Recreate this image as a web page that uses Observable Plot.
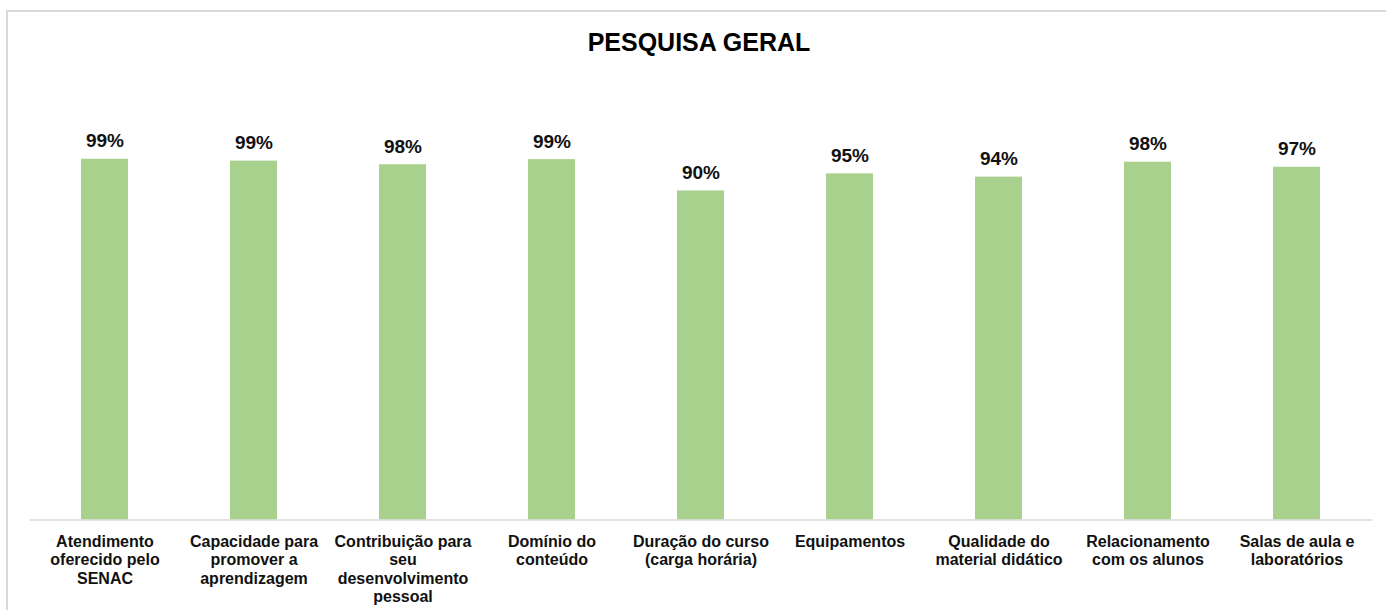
<!DOCTYPE html>
<html>
<head>
<meta charset="utf-8">
<script src="https://cdn.jsdelivr.net/npm/d3@7"></script>
<script src="https://cdn.jsdelivr.net/npm/@observablehq/plot@0.6"></script>
<style>
  html, body { margin: 0; padding: 0; background: #fff; overflow: hidden; }
  body { width: 1386px; height: 610px; position: relative; font-family: "Liberation Sans", Arial, sans-serif; }
  #frame { position: absolute; left: 6px; top: 10px; width: 1420px; height: 700px; border: 2px solid #d9d9d9; box-sizing: border-box; }
  #title { position: absolute; left: 0; width: 1398px; top: 29.5px; text-align: center; font-size: 25px; line-height: 25px; font-weight: bold; color: #000; }
  #chart { position: absolute; left: 0; top: 60px; }
</style>
</head>
<body>
<div id="frame"></div>
<div id="title">PESQUISA GERAL</div>
<div id="chart"></div>
<script>
const categories = [
  "Atendimento oferecido pelo SENAC",
  "Capacidade para promover a aprendizagem",
  "Contribuição para seu desenvolvimento pessoal",
  "Domínio do conteúdo",
  "Duração do curso (carga horária)",
  "Equipamentos",
  "Qualidade do material didático",
  "Relacionamento com os alunos",
  "Salas de aula e laboratórios"
];
const tickLabels = [
  "Atendimento\noferecido pelo\nSENAC",
  "Capacidade para\npromover a\naprendizagem",
  "Contribuição para\nseu\ndesenvolvimento\npessoal",
  "Domínio do\nconteúdo",
  "Duração do curso\n(carga horária)",
  "Equipamentos",
  "Qualidade do\nmaterial didático",
  "Relacionamento\ncom os alunos",
  "Salas de aula e\nlaboratórios"
];
const values = [0.991, 0.986, 0.976, 0.990, 0.904, 0.951, 0.942, 0.983, 0.969];

const data = categories.map((c, i) => ({category: c, value: values[i]}));
const labelOf = new Map(categories.map((c, i) => [c, tickLabels[i]]));

const chart = Plot.plot({
  width: 1386,
  height: 550,
  marginTop: 95.5,
  marginBottom: 90.5,
  marginLeft: 29.5,
  marginRight: 14,
  style: {fontFamily: "'Liberation Sans', Arial, sans-serif", background: "transparent", overflow: "visible"},
  x: {domain: categories, paddingInner: 0.687, paddingOuter: 0.3435, axis: null},
  y: {domain: [0, 1], axis: null},
  marks: [
    Plot.barY(data, {x: "category", y: "value", fill: "#a9d18e"}),
    Plot.ruleY([0], {stroke: "#d9d9d9", strokeWidth: 1.5}),
    Plot.text(data, {x: "category", y: "value", text: d => d3.format(".0%")(d.value), lineAnchor: "bottom", dy: -12, fontSize: 19, fontWeight: "bold", fill: "#111"}),
    Plot.axisX({tickSize: 0, tickPadding: 14, tickFormat: d => labelOf.get(d), label: null, fontSize: 16, fontWeight: "bold", fill: "#111", lineHeight: 1.15, textOverflow: null, lineWidth: Infinity})
  ]
});
document.getElementById("chart").appendChild(chart);
</script>
</body>
</html>
